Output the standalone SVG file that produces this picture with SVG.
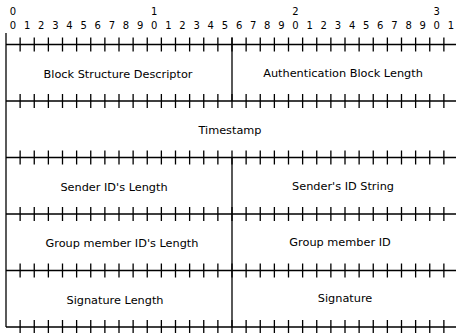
<svg xmlns="http://www.w3.org/2000/svg" xmlns:xlink="http://www.w3.org/1999/xlink" width="456" height="333" viewBox="0 0 456 333">
<style>
.ln{stroke:#000;stroke-width:1.3;fill:none}
.tk{stroke:#000;stroke-width:1.3;fill:none}
.num{font-family:"DejaVu Sans",sans-serif;font-size:10px;fill:#000;text-anchor:middle}
.lbl{font-family:"DejaVu Sans",sans-serif;font-size:11.3px;fill:#000;text-anchor:middle}
</style>
<defs>
<path id="ticks" class="tk" d="M20.125,-7V7M34.25,-7V7M48.375,-7V7M62.5,-7V7M76.625,-7V7M90.75,-7V7M104.875,-7V7M119,-7V7M133.125,-7V7M147.25,-7V7M161.375,-7V7M175.5,-7V7M189.625,-7V7M203.75,-7V7M217.875,-7V7M232,-7V7M246.125,-7V7M260.25,-7V7M274.375,-7V7M288.5,-7V7M302.625,-7V7M316.75,-7V7M330.875,-7V7M345,-7V7M359.125,-7V7M373.25,-7V7M387.375,-7V7M401.5,-7V7M415.625,-7V7M429.75,-7V7M443.875,-7V7"/>
</defs>
<g id="header">
<text class="num" x="13" y="15">0</text>
<text class="num" x="154.3" y="15">1</text>
<text class="num" x="295.5" y="15">2</text>
<text class="num" x="436.8" y="15">3</text>
<text class="num" y="29"><tspan x="13">0</tspan><tspan x="27.1">1</tspan><tspan x="41.3">2</tspan><tspan x="55.4">3</tspan><tspan x="69.5">4</tspan><tspan x="83.7">5</tspan><tspan x="97.8">6</tspan><tspan x="111.9">7</tspan><tspan x="126">8</tspan><tspan x="140.2">9</tspan><tspan x="154.3">0</tspan><tspan x="168.4">1</tspan><tspan x="182.5">2</tspan><tspan x="196.7">3</tspan><tspan x="210.8">4</tspan><tspan x="224.9">5</tspan><tspan x="239.1">6</tspan><tspan x="253.2">7</tspan><tspan x="267.3">8</tspan><tspan x="281.4">9</tspan><tspan x="295.5">0</tspan><tspan x="309.7">1</tspan><tspan x="323.8">2</tspan><tspan x="337.9">3</tspan><tspan x="352.1">4</tspan><tspan x="366.2">5</tspan><tspan x="380.3">6</tspan><tspan x="394.4">7</tspan><tspan x="408.6">8</tspan><tspan x="422.7">9</tspan><tspan x="436.8">0</tspan><tspan x="450.9">1</tspan></text>
</g>
<g id="grid">
<path class="ln" d="M6,33V327"/>
<path class="ln" d="M6,44.5H456M6,101H456M6,157.5H456M6,214H456M6,270.5H456M6,327H456"/>
<path class="ln" d="M232,37.5V101M232,157.5V327"/>
<use xlink:href="#ticks" y="44.5"/>
<use xlink:href="#ticks" y="101"/>
<use xlink:href="#ticks" y="157.5"/>
<use xlink:href="#ticks" y="214"/>
<use xlink:href="#ticks" y="270.5"/>
<use xlink:href="#ticks" y="327"/>
</g>
<g id="n1"><text class="lbl" x="118" y="78">Block Structure Descriptor</text></g>
<g id="n2"><text class="lbl" x="343" y="77">Authentication Block Length</text></g>
<g id="n3"><text class="lbl" x="230" y="134">Timestamp</text></g>
<g id="n4"><text class="lbl" x="114" y="191">Sender ID's Length</text></g>
<g id="n5"><text class="lbl" x="343" y="190">Sender's ID String</text></g>
<g id="n6"><text class="lbl" x="122" y="247">Group member ID's Length</text></g>
<g id="n7"><text class="lbl" x="340" y="246">Group member ID</text></g>
<g id="n8"><text class="lbl" x="115" y="304">Signature Length</text></g>
<g id="n9"><text class="lbl" x="345" y="302">Signature</text></g>
</svg>
